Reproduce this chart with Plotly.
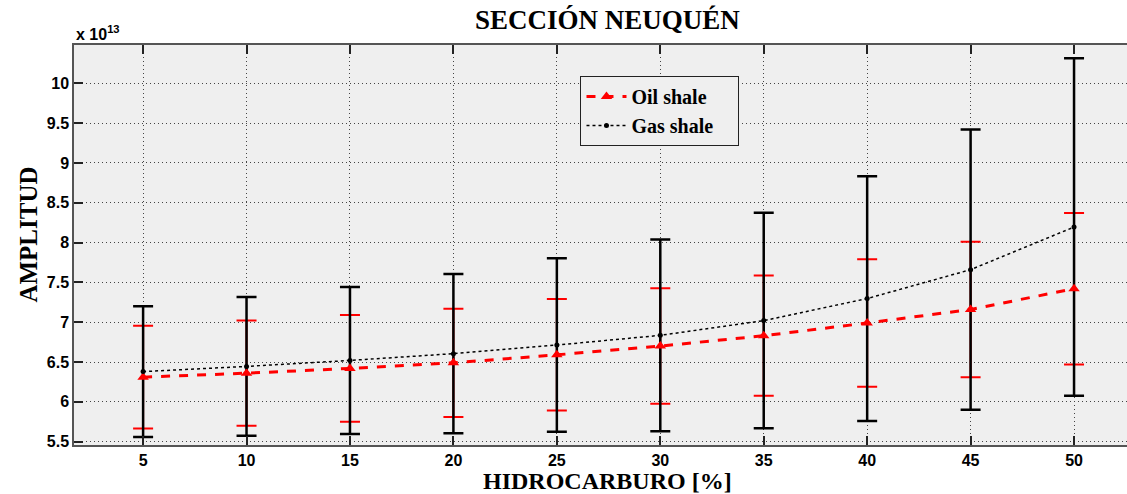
import plotly.graph_objects as go

# Data (amplitude values in units of 1e13)
hidrocarburo = [5, 10, 15, 20, 25, 30, 35, 40, 45, 50]
oil_mean = [6.31, 6.36, 6.42, 6.49, 6.59, 6.70, 6.83, 6.99, 7.16, 7.42]
oil_err = [0.645, 0.66, 0.67, 0.68, 0.70, 0.725, 0.755, 0.80, 0.85, 0.95]
gas_mean = [6.38, 6.445, 6.52, 6.605, 6.713, 6.835, 7.02, 7.297, 7.66, 8.195]
gas_err = [0.82, 0.87, 0.923, 1.0, 1.09, 1.205, 1.353, 1.537, 1.76, 2.12]

y_ticks = [5.5, 6, 6.5, 7, 7.5, 8, 8.5, 9, 9.5, 10]
y_ticktext = ["5.5", "6", "6.5", "7", "7.5", "8", "8.5", "9", "9.5", "10"]
x_ticks = hidrocarburo
series_names = ["Oil shale", "Gas shale"]

serif = "Liberation Serif"
sans = "Liberation Sans"
pad = "\u00a0" * 4

fig = go.Figure()

# Error bars (red for oil, black for gas drawn over)
fig.add_trace(go.Scatter(
    x=hidrocarburo, y=oil_mean, mode="markers",
    marker=dict(size=1, color="rgba(0,0,0,0)"),
    error_y=dict(type="data", array=oil_err, color="#ff0000", thickness=2, width=10),
    showlegend=False, hoverinfo="skip"))
fig.add_trace(go.Scatter(
    x=hidrocarburo, y=gas_mean, mode="markers",
    marker=dict(size=1, color="rgba(0,0,0,0)"),
    error_y=dict(type="data", array=gas_err, color="#000000", thickness=2.5, width=10),
    showlegend=False, hoverinfo="skip"))

# Mean lines
fig.add_trace(go.Scatter(
    x=hidrocarburo, y=oil_mean, mode="lines+markers", name=series_names[0] + pad,
    line=dict(color="#ff0000", width=3, dash="dash"),
    marker=dict(symbol="triangle-up", size=10, color="#ff0000")))
fig.add_trace(go.Scatter(
    x=hidrocarburo, y=gas_mean, mode="lines+markers", name=series_names[1] + pad,
    line=dict(color="#000000", width=1.5, dash="dot"),
    marker=dict(symbol="circle", size=5, color="#000000")))

fig.update_layout(
    width=1127, height=494,
    margin=dict(l=74, r=0, t=45, b=49),
    paper_bgcolor="white",
    plot_bgcolor="#efefef",
    showlegend=True,
    legend=dict(
        x=0.481, y=0.9225, xanchor="left", yanchor="top",
        bgcolor="#efefef", bordercolor="#222222", borderwidth=1,
        font=dict(family=serif, size=20, color="black", weight="bold"),
        tracegroupgap=0, itemwidth=40,
    ),
    annotations=[
        dict(text="SECCIÓN NEUQUÉN", xref="paper", yref="paper",
             x=0.507, y=1.0625, xanchor="center", yanchor="middle", showarrow=False,
             font=dict(family=serif, size=27, color="black", weight="bold")),
        dict(text="HIDROCARBURO [%]", xref="paper", yref="paper",
             x=0.507, y=-0.09, xanchor="center", yanchor="middle", showarrow=False,
             font=dict(family=serif, size=24, color="black", weight="bold")),
        dict(text="AMPLITUD", xref="paper", yref="paper", textangle=-90,
             x=-0.0441, y=0.525, xanchor="center", yanchor="middle", showarrow=False,
             font=dict(family=serif, size=25, color="black", weight="bold")),
        dict(text="x 10<sup>13</sup>", xref="paper", yref="paper",
             x=0.0, y=1.0, xanchor="left", yanchor="bottom", showarrow=False,
             font=dict(family=sans, size=16, color="black", weight="bold")),
    ],
)

fig.update_xaxes(
    range=[1.66, 52.56], tickvals=x_ticks, ticktext=[str(v) for v in x_ticks],
    showgrid=True, gridcolor="#444444", gridwidth=1, griddash="1px,3px",
    zeroline=False, showline=True, linecolor="#555555", linewidth=1.5,
    mirror="ticks", ticks="inside", ticklen=9, tickcolor="#222222", tickwidth=1.5,
    tickfont=dict(family=sans, size=16, color="black", weight="bold"),
)
fig.update_yaxes(
    range=[5.458, 10.481], tickvals=y_ticks, ticktext=y_ticktext,
    showgrid=True, gridcolor="#444444", gridwidth=1, griddash="1px,3px",
    zeroline=False, showline=True, linecolor="#555555", linewidth=1.5,
    ticks="inside", ticklen=9, tickcolor="#222222", tickwidth=1.5,
    tickfont=dict(family=sans, size=16, color="black", weight="bold"),
)

fig.write_html(
    "out.html",
    config={"displayModeBar": False},
    post_script="document.body.style.margin='0';document.body.style.overflow='hidden';",
)
